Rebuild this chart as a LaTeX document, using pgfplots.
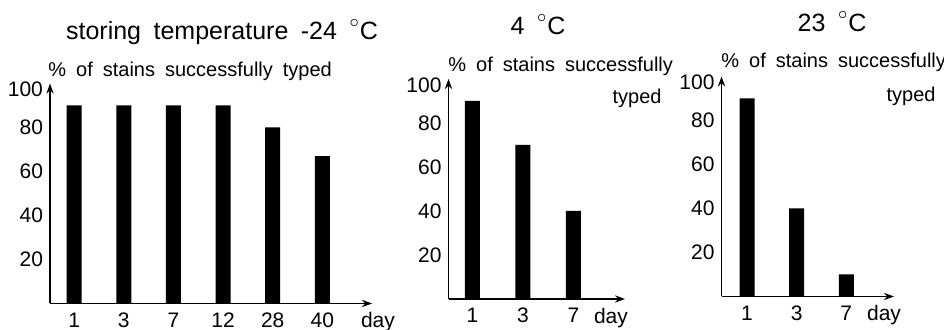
\documentclass[border=0pt]{standalone}
\usepackage{pgfplots}
\pgfplotsset{compat=1.18}
\usetikzlibrary{arrows.meta}
\usepackage{fontspec}
\setmainfont[WordSpace=1.8]{Liberation Sans}
\newcommand{\dg}{\raisebox{6pt}{$\scriptstyle\circ$}\kern0.5pt}
\pgfplotsset{panel/.style={
  scale only axis, anchor=south west,
  axis lines=left,
  axis line style={line width=0.9pt, -{Stealth[length=5pt,width=3.6pt]}},
  ymin=0, ymax=100,
  ytick={20,40,60,80},
  extra y ticks={100},
  extra y tick style={yticklabel style={yshift=-3pt}},
  major tick length=0pt,
  xtick=data,
  ybar, bar width=7.5pt,
  tick label style={font=\fontsize{10.5}{12}\selectfont},
  /pgf/number format/assume math mode=true,
  xticklabel style={yshift=-1pt},
  clip=false,
  xlabel={day},
}}
\begin{document}
\begin{tikzpicture}
\path[use as bounding box] (0,0) rectangle (472pt,165pt);
% panel 1
\begin{axis}[panel, at={(25pt,13.25pt)}, width=161pt, height=110pt,
  xmin=-0.487, xmax=6.0, xticklabels={1,3,7,12,28,40},
  xlabel style={at={(rel axis cs:1,0)}, anchor=north, xshift=3pt, yshift=-1pt, font=\fontsize{10.5}{12}\selectfont}]
\addplot[fill=black, draw=none] coordinates {(0,90) (1,90) (2,90) (3,90) (4,80) (5,67)};
\end{axis}
% panel 2
\begin{axis}[panel, at={(224.25pt,15.5pt)}, width=88.25pt, height=110pt,
  xmin=-0.475, xmax=3.02, xticklabels={1,3,7},
  xlabel style={at={(rel axis cs:1,0)}, anchor=north, xshift=-7pt, yshift=-1pt, font=\fontsize{10.5}{12}\selectfont}]
\addplot[fill=black, draw=none] coordinates {(0,90) (1,70) (2,40)};
\end{axis}
% panel 3
\begin{axis}[panel, at={(360.75pt,16.75pt)}, width=86.25pt, height=110pt,
  xmin=-0.514, xmax=2.96, xticklabels={1,3,7},
  xlabel style={at={(rel axis cs:1,0)}, anchor=north, xshift=-5pt, yshift=-1pt, font=\fontsize{10.5}{12}\selectfont}]
\addplot[fill=black, draw=none] coordinates {(0,90) (1,40) (2,10)};
\end{axis}
% titles
\node[anchor=base, font=\fontsize{12.5}{15}\selectfont] at (111pt,145pt) {storing temperature -24 \dg C};
\node[anchor=base, font=\fontsize{12.5}{15}\selectfont] at (269pt,147.5pt) {4 \dg C};
\node[anchor=base, font=\fontsize{12.5}{15}\selectfont] at (416pt,149pt) {23 \dg C};
% y labels
\node[anchor=base west, inner sep=0pt, font=\fontsize{10}{12}\selectfont] at (24pt,126.5pt) {\% of stains successfully typed};
\node[anchor=base west, inner sep=0pt, font=\fontsize{10}{12}\selectfont] at (224pt,129pt) {\% of stains successfully};
\node[anchor=base east, inner sep=0pt, font=\fontsize{10}{12}\selectfont] at (331pt,113pt) {typed};
\node[anchor=base west, inner sep=0pt, font=\fontsize{10}{12}\selectfont] at (360.5pt,131pt) {\% of stains successfully};
\node[anchor=base east, inner sep=0pt, font=\fontsize{10}{12}\selectfont] at (468pt,114pt) {typed};
\end{tikzpicture}
\end{document}
